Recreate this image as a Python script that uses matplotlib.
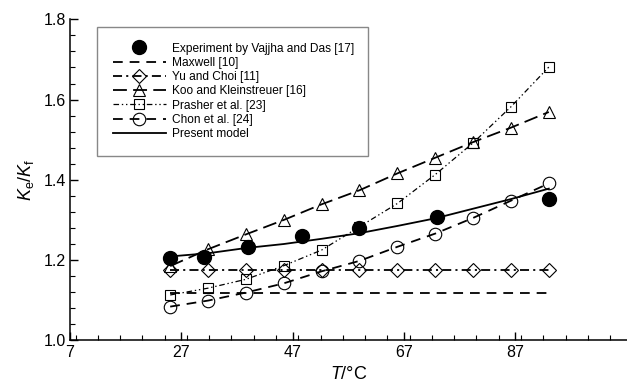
import matplotlib
matplotlib.use("Agg")
import matplotlib.pyplot as plt
from matplotlib.ticker import MultipleLocator, FixedLocator

plt.rcParams['font.family'] = ['Liberation Sans', 'DejaVu Sans']
plt.rcParams['mathtext.fontset'] = 'custom'
plt.rcParams['mathtext.rm'] = 'Liberation Sans'
plt.rcParams['mathtext.it'] = 'Liberation Sans:italic'
plt.rcParams['lines.scale_dashes'] = False

# temperatures (deg C) of the model curves
temps = [25, 31.8, 38.6, 45.4, 52.2, 59.0, 65.8, 72.6, 79.4, 86.2, 93.0]

# experiment (Vajjha and Das)
exp_temps = [25, 31, 39, 48.6, 59, 73, 93]
exp_k = [1.204, 1.208, 1.232, 1.260, 1.281, 1.308, 1.351]

maxwell = [1.119, 1.119, 1.119, 1.119, 1.119, 1.119, 1.119, 1.119, 1.119, 1.119, 1.119]
yu_choi = [1.175, 1.175, 1.175, 1.175, 1.175, 1.175, 1.175, 1.175, 1.175, 1.175, 1.175]
koo = [1.185, 1.227, 1.264, 1.300, 1.339, 1.374, 1.416, 1.455, 1.494, 1.530, 1.569]
prasher = [1.113, 1.130, 1.152, 1.186, 1.225, 1.283, 1.341, 1.413, 1.492, 1.582, 1.681]
chon = [1.084, 1.099, 1.119, 1.142, 1.172, 1.198, 1.233, 1.266, 1.305, 1.348, 1.391]
model = [1.209, 1.217, 1.230, 1.240, 1.253, 1.267, 1.285, 1.304, 1.328, 1.352, 1.378]

labels = ["Experiment by Vajjha and Das [17]", "Maxwell [10]", "Yu and Choi [11]",
          "Koo and Kleinstreuer [16]", "Prasher et al. [23]", "Chon et al. [24]",
          "Present model"]

fig = plt.figure(figsize=(6.27, 3.88), dpi=100)
ax = fig.add_axes([0.1116, 0.1229, 0.888, 0.8273])

lw = 1.3
ax.plot(exp_temps, exp_k, 'o', color='k', ms=10, ls='none', label=labels[0], zorder=5)
ax.plot(temps, maxwell, color='k', lw=lw, ls=(0, (7, 5)), label=labels[1])
ax.plot(temps, yu_choi, color='k', lw=lw, ls=(0, (6.5, 3, 1.5, 3)), marker='D', ms=7.5,
        mfc='none', mec='k', mew=0.8, label=labels[2])
ax.plot(temps, koo, color='k', lw=lw, ls=(0, (10, 4.5)), marker='^', ms=8,
        mfc='none', mec='k', mew=0.8, label=labels[3])
ax.plot(temps, prasher, color='k', lw=0.9, ls=(0, (4, 2, 1, 2, 1, 2)), marker='s', ms=6.5,
        mfc='none', mec='k', mew=0.8, label=labels[4])
ax.plot(temps, chon, color='k', lw=lw, ls=(0, (7, 5)), marker='o', ms=9,
        mfc='none', mec='k', mew=0.8, label=labels[5])
ax.plot(temps, model, color='k', lw=lw, ls='-', label=labels[6])

ax.set_xlim(7, 107)
ax.set_ylim(1.0, 1.8)
ax.xaxis.set_major_locator(FixedLocator([7, 27, 47, 67, 87]))
ax.xaxis.set_minor_locator(MultipleLocator(4))
ax.yaxis.set_major_locator(MultipleLocator(0.2))
ax.yaxis.set_minor_locator(MultipleLocator(0.04))
ax.yaxis.set_major_formatter(matplotlib.ticker.FormatStrFormatter('%.1f'))
ax.tick_params(which='both', direction='in', labelsize=11.5, color='k')
ax.tick_params(which='major', length=6, width=1)
ax.tick_params(which='minor', length=3.5, width=0.8)
ax.tick_params(axis='y', pad=3)
ax.spines['top'].set_visible(False)
ax.spines['right'].set_visible(False)
for s in ('left', 'bottom'):
    ax.spines[s].set_linewidth(1.1)

ax.set_xlabel(r'$T$/°C', fontsize=13, labelpad=4)
ax.set_ylabel(r'$K_{\mathrm{e}}/K_{\mathrm{f}}$', fontsize=13, labelpad=5)

leg = ax.legend(loc='upper left', bbox_to_anchor=(0.0485, 0.976, 0.4865, 0.0),
                mode='expand', borderaxespad=0,
                fontsize=8.6, numpoints=1, handlelength=4.5, handletextpad=0.45,
                labelspacing=0.19, borderpad=1.3, fancybox=False, framealpha=1)
leg.get_frame().set_edgecolor('#888888')
leg.get_frame().set_linewidth(1.0)

fig.savefig('out.png', dpi=100)
